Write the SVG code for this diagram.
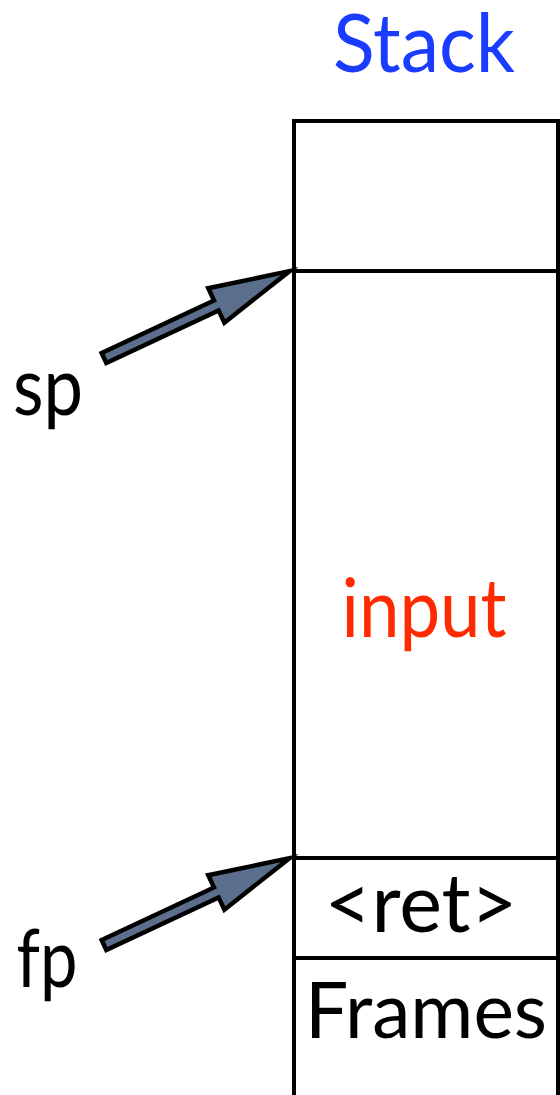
<svg xmlns="http://www.w3.org/2000/svg" width="560" height="1095" viewBox="0 0 560 1095">
<style>
.t{font-family:Lato,"Noto Sans",sans-serif;font-size:82px;fill:#000;text-anchor:middle}
.box{fill:none;stroke:#000;stroke-width:4}
.arr{fill:#5b6f8c;stroke:#000;stroke-width:4.5;stroke-linejoin:miter;stroke-miterlimit:10}
</style>
<defs>
<polygon id="arrowShape" class="arr" points="0,-5.5 124,-5.5 124,-19 205,0 124,19 124,5.5 0,5.5"/>
</defs>
<rect width="560" height="1095" fill="#fff"/>
<g id="title"><text class="t" x="424" y="72" textLength="182" lengthAdjust="spacingAndGlyphs" style="fill:#1a3cff">Stack</text></g>
<g id="stack">
<path class="box" d="M294,1095 V121 H558 V1095"/>
</g>
<g id="slot-top"><line class="box" x1="294" y1="271" x2="558" y2="271"/></g>
<g id="slot-input"><text class="t" x="424" y="637" textLength="165" lengthAdjust="spacingAndGlyphs" style="fill:#ff2a00">input</text></g>
<g id="slot-ret"><line class="box" x1="294" y1="858" x2="558" y2="858"/><text class="t" x="421" y="932" textLength="193" lengthAdjust="spacingAndGlyphs">&lt;ret&gt;</text></g>
<g id="slot-frames"><line class="box" x1="294" y1="958" x2="558" y2="958"/><text class="t" x="426" y="1038" style="font-size:78px" textLength="242" lengthAdjust="spacingAndGlyphs">Frames</text></g>
<g id="label-sp"><text class="t" x="48" y="415" textLength="70" lengthAdjust="spacingAndGlyphs">sp</text></g>
<g id="label-fp"><text class="t" x="47" y="987" textLength="61" lengthAdjust="spacingAndGlyphs">fp</text></g>
<g id="connectors">
<use href="#arrowShape" transform="translate(104,358) rotate(-25.08)"/>
<use href="#arrowShape" transform="translate(104,945) rotate(-25.08)"/>
</g>
</svg>
